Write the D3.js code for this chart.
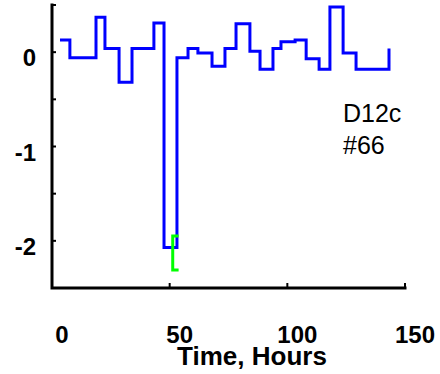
<!DOCTYPE html>
<html>
<head>
<meta charset="utf-8">
<script src="https://cdn.jsdelivr.net/npm/d3@7"></script>
<style>
  html, body { margin: 0; padding: 0; background: #fff; }
  svg { display: block; }
</style>
</head>
<body>
<svg id="chart" width="440" height="374"></svg>
<script>
// Step trace: time (hours) where each level starts, and the level value
const stepTimes = [3.4, 7.6, 18.7, 22.5, 28.5, 34.0, 43.3, 47.6, 53.1, 57.8, 62.0, 68.0,
                   73.5, 78.2, 84.1, 88.4, 93.9, 97.3, 103.3, 108.0, 113.5, 118.1, 123.7, 129.2, 143.2];
const stepValues = [0.13, -0.06, 0.37, 0.04, -0.32, 0.04, 0.31, -2.07, -0.06, 0.04, -0.01, -0.15,
                    0.04, 0.30, 0.01, -0.18, 0.04, 0.11, 0.13, -0.07, -0.18, 0.48, -0.01, -0.18, 0.04];

// Range bracket (green): time span and value range
const bracketTimes = [51.3, 53.8];
const bracketRange = [-2.31, -1.95];

// Axis ticks
const xTicks = [0, 50, 100, 150];
const xTickLabels = ["0", "50", "100", "150"];
const yTicks = [-2.5, -2, -1.5, -1, -0.5, 0, 0.5];
const yTickLabels = ["-2", "-1", "0"];
const yLabelValues = [-2, -1, 0];

const annotation = ["D12c", "#66"];
const xTitle = "Time, Hours";

const font = "'Liberation Sans', Arial, Helvetica, sans-serif";
const svg = d3.select("#chart");

const x = d3.scaleLinear().domain([0, 150]).range([52, 405]);
const y = d3.scaleLinear().domain([-2.5, 0.5]).range([288, 5]);

// Step line
const pts = stepTimes.map((t, i) => [t, stepValues[i]]);
const line = d3.line().x(d => x(d[0])).y(d => y(d[1])).curve(d3.curveStepAfter);
svg.append("path")
  .attr("d", line(pts))
  .attr("fill", "none")
  .attr("stroke", "#0000ff")
  .attr("stroke-width", 3)
  .attr("stroke-linejoin", "miter");

// Green bracket
const bracket = [
  [bracketTimes[1], bracketRange[1]],
  [bracketTimes[0], bracketRange[1]],
  [bracketTimes[0], bracketRange[0]],
  [bracketTimes[1], bracketRange[0]]
];
svg.append("path")
  .attr("d", d3.line().x(d => x(d[0])).y(d => y(d[1]))(bracket))
  .attr("fill", "none")
  .attr("stroke", "#00ff00")
  .attr("stroke-width", 3);

// Axes: L-shaped frame with inward ticks
const axes = svg.append("g").attr("stroke", "#000").attr("stroke-width", 3).attr("fill", "none");
axes.append("path")
  .attr("d", `M${x(0)},${y(0.5)}V${y(-2.5)}H${x(150)}`)
  .attr("stroke-linecap", "square");
axes.selectAll(".yt").data(yTicks).enter().append("line")
  .attr("x1", x(0)).attr("x2", x(0) + 4)
  .attr("y1", d => y(d)).attr("y2", d => y(d))
  .attr("stroke-width", 2);
axes.selectAll(".xt").data(xTicks.slice(1)).enter().append("line")
  .attr("x1", d => x(d)).attr("x2", d => x(d))
  .attr("y1", y(-2.5)).attr("y2", y(-2.5) - 5)
  .attr("stroke-width", 2);

// Tick labels
svg.append("g").selectAll("text").data(xTicks).enter().append("text")
  .attr("x", d => x(d) + 10)
  .attr("y", 343)
  .attr("text-anchor", "middle")
  .attr("font-family", font)
  .attr("font-weight", "bold")
  .attr("font-size", 24)
  .text((d, i) => xTickLabels[i]);

svg.append("g").selectAll("text").data(yLabelValues).enter().append("text")
  .attr("x", 36)
  .attr("y", d => y(d) + 14)
  .attr("text-anchor", "end")
  .attr("font-family", font)
  .attr("font-weight", "bold")
  .attr("font-size", 24)
  .text((d, i) => yTickLabels[i]);

// Axis title
svg.append("text")
  .attr("x", 252).attr("y", 365)
  .attr("text-anchor", "middle")
  .attr("font-family", font)
  .attr("font-weight", "bold")
  .attr("font-size", 26)
  .text(xTitle);

// Annotation
svg.append("g").selectAll("text").data(annotation).enter().append("text")
  .attr("x", 343)
  .attr("y", (d, i) => 122 + i * 32)
  .attr("font-family", font)
  .attr("font-size", 25)
  .text(d => d);
</script>
</body>
</html>
